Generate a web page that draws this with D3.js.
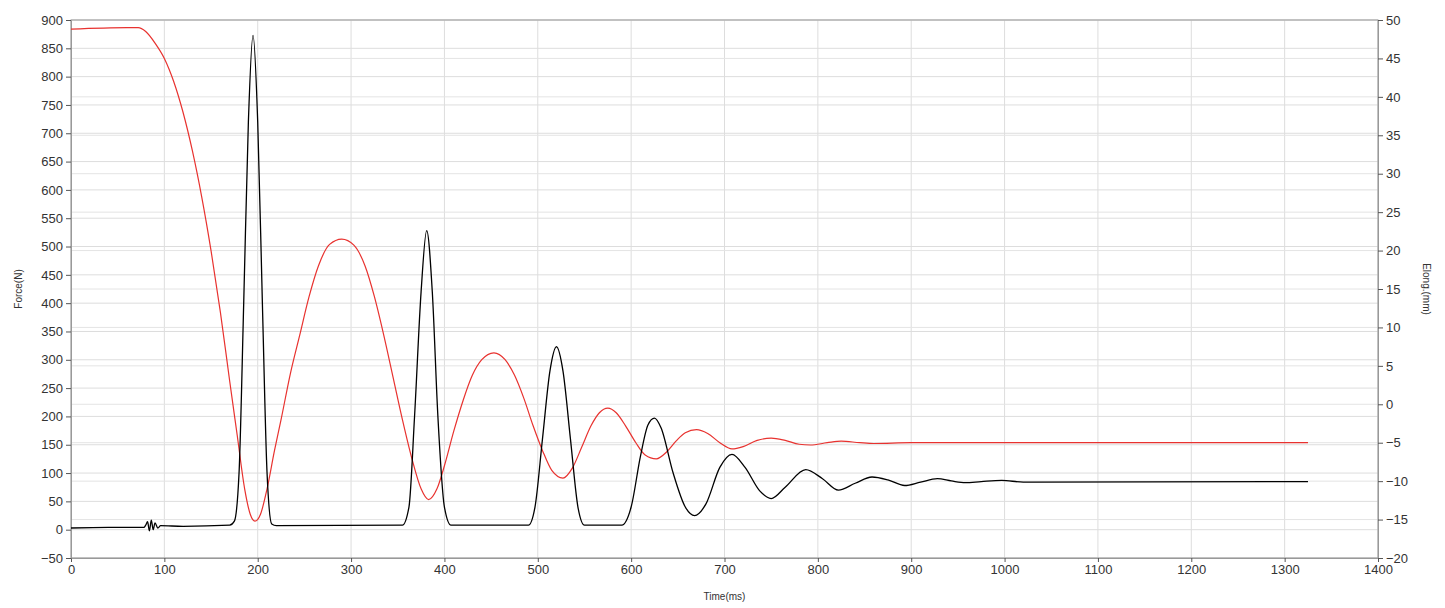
<!DOCTYPE html><html><head><meta charset="utf-8">
<script src="https://cdn.jsdelivr.net/npm/d3@7"></script>
<style>body{margin:0;background:#fff}text{font-family:"Liberation Sans",Arial,sans-serif;fill:#333}</style></head><body>
<svg id="c" width="1445" height="608"></svg>
<script>
const forceData=[[0,3],[40,4],[78,4],[80,8],[82,14],[84,-2],[86,17],[88,0],[90,12],[93,3],[96,7],[120,6],[170,8],[175,15],[180,100],[185,400],[190,720],[195,873],[200,720],[205,400],[210,100],[215,10],[220,7],[355,8],[362,40],[368,200],[375,420],[381,528],[387,420],[393,200],[400,40],[407,8],[490,8],[497,40],[505,160],[513,280],[520,323],[527,280],[535,160],[543,40],[550,8],[590,8],[600,40],[610,130],[618,185],[625,197],[632,180],[645,100],[658,40],[668,25],[680,45],[695,110],[708,133],[722,110],[738,68],[750,55],[765,75],[787,106],[805,90],[822,70],[840,82],[858,93],[875,88],[893,78],[910,84],[928,90],[943,86],[958,83],[975,85],[997,87],[1020,84],[1325,85]];
const elongData=[[0,48.8],[60,49],[72,49],[80,48.5],[90,47],[100,45],[110,42],[120,38],[130,33],[140,27],[150,20],[160,12],[170,3],[178,-4],[186,-11],[192,-14.3],[197,-15.2],[203,-14.3],[210,-11],[218,-6],[225,-2],[235,4],[245,9],[255,14],[265,18],[277,20.8],[290,21.5],[303,20.7],[315,18],[325,14],[335,9],[345,3.5],[355,-2],[365,-7],[375,-11],[383,-12.4],[392,-11],[400,-8],[410,-3.5],[420,0.5],[430,3.8],[440,5.8],[453,6.7],[465,5.8],[475,3.8],[485,0.8],[495,-2.8],[505,-6],[515,-8.6],[527,-9.6],[537,-8.3],[547,-5.6],[557,-2.8],[566,-1.1],[575,-0.5],[584,-1.1],[594,-2.8],[605,-5],[615,-6.6],[627,-7.1],[638,-6.2],[648,-4.8],[658,-3.7],[670,-3.3],[682,-3.8],[695,-5],[708,-5.8],[720,-5.5],[735,-4.7],[750,-4.4],[765,-4.7],[780,-5.2],[792,-5.3],[810,-5],[825,-4.8],[845,-5],[860,-5.1],[900,-5],[1325,-5]];
const xTicks=d3.range(0,1401,100), yLTicks=d3.range(-50,901,50), yRTicks=d3.range(-20,51,5);
const svg=d3.select("#c"),L=71,R=1378,T=20,B=558;
const x=d3.scaleLinear([0,1400],[L,R]),yL=d3.scaleLinear([-50,900],[B,T]),yR=d3.scaleLinear([-20,50],[B,T]);
const g=svg.append("g");
xTicks.forEach(v=>g.append("line").attr("x1",x(v)).attr("x2",x(v)).attr("y1",T).attr("y2",B).attr("stroke","#ddd"));
yLTicks.forEach(v=>g.append("line").attr("x1",L).attr("x2",R).attr("y1",yL(v)).attr("y2",yL(v)).attr("stroke","#ddd"));
yRTicks.forEach(v=>g.append("line").attr("x1",L).attr("x2",R).attr("y1",yR(v)).attr("y2",yR(v)).attr("stroke","#e4e4e4"));
svg.append("rect").attr("x",L).attr("y",T).attr("width",R-L).attr("height",B-T).attr("fill","none").attr("stroke","#999");
const ax=(a)=>a.call(s=>{s.select(".domain").attr("stroke","#999");s.selectAll(".tick line").attr("stroke","#555");s.selectAll("text").style("font-size","13px").attr("fill","#333")});
svg.append("g").attr("transform",`translate(0,${B})`).call(d3.axisBottom(x).tickValues(xTicks).tickFormat(d3.format("d")).tickSize(4).tickSizeOuter(0)).call(ax);
svg.append("g").attr("transform",`translate(${L},0)`).call(d3.axisLeft(yL).tickValues(yLTicks).tickFormat(d3.format("d")).tickSize(5).tickSizeOuter(0)).call(ax);
svg.append("g").attr("transform",`translate(${R},0)`).call(d3.axisRight(yR).tickValues(yRTicks).tickFormat(d3.format("d")).tickSize(5).tickSizeOuter(0)).call(ax);
const lr=d3.line().x(d=>x(d[0])).y(d=>yR(d[1])).curve(d3.curveMonotoneX);
const lf=d3.line().x(d=>x(d[0])).y(d=>yL(d[1])).curve(d3.curveMonotoneX);
svg.append("path").attr("d",lr(elongData)).attr("fill","none").attr("stroke","#e8322f").attr("stroke-width",1.2);
svg.append("path").attr("d",lf(forceData)).attr("fill","none").attr("stroke","#000").attr("stroke-width",1.3);
svg.append("text").attr("x",(L+R)/2).attr("y",600).attr("text-anchor","middle").style("font-size","10px").text("Time(ms)");
svg.append("text").attr("transform",`translate(22,${(T+B)/2}) rotate(-90)`).attr("text-anchor","middle").style("font-size","10px").text("Force(N)");
svg.append("text").attr("transform",`translate(1423,${(T+B)/2}) rotate(90)`).attr("text-anchor","middle").style("font-size","10px").text("Elong.(mm)");
</script></body></html>
